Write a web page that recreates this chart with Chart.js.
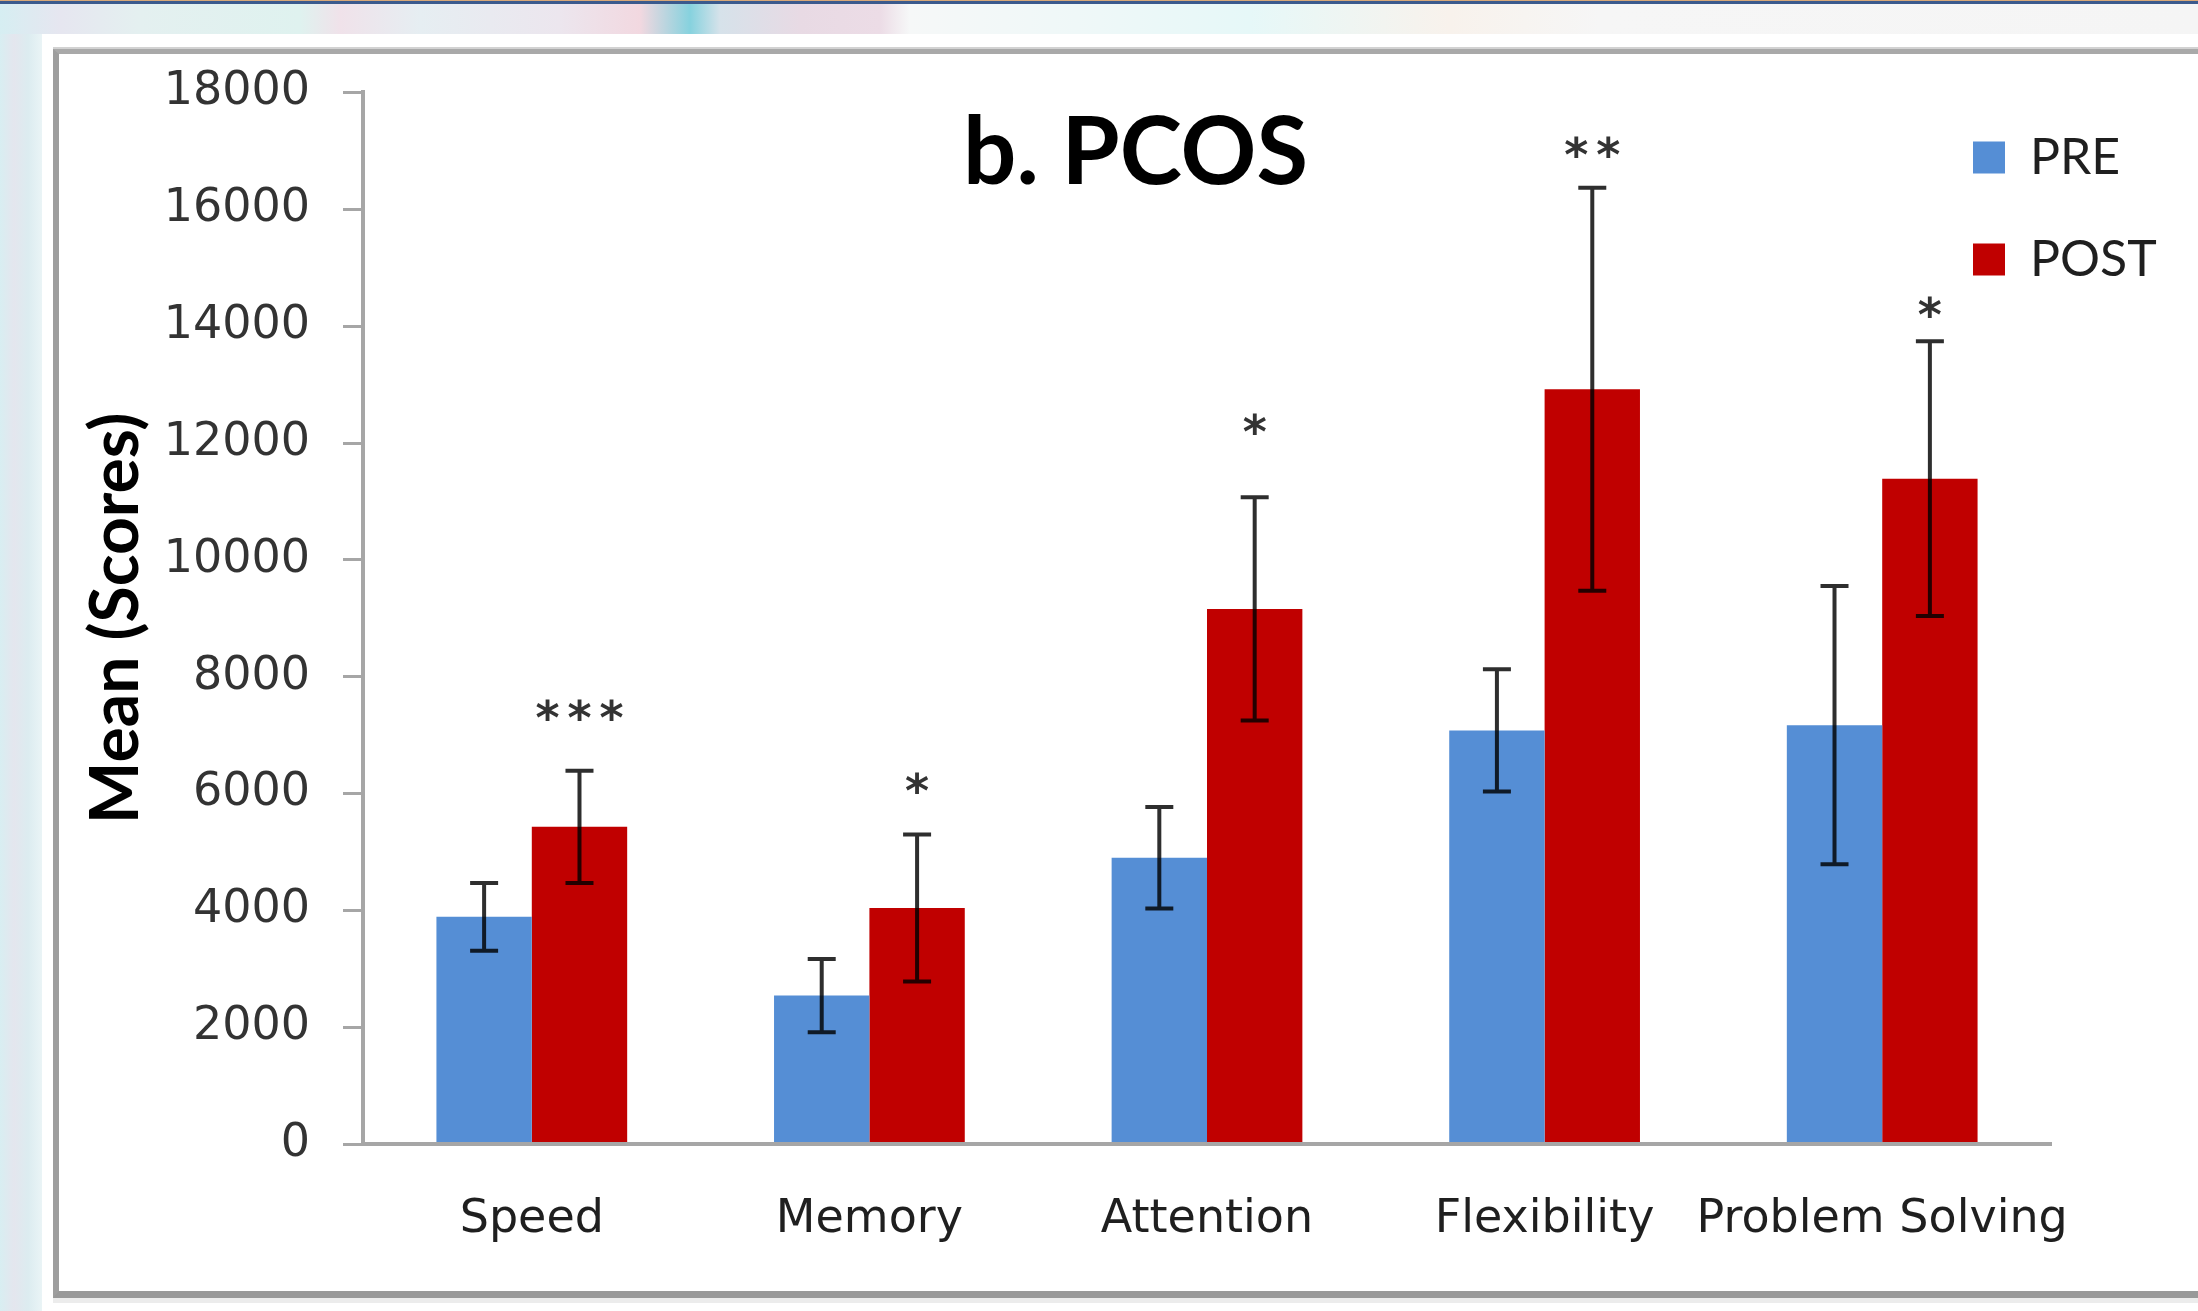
<!DOCTYPE html>
<html>
<head>
<meta charset="utf-8">
<script src="https://cdn.jsdelivr.net/npm/chart.js@4.4.1/dist/chart.umd.min.js"></script>
<style>
html,body{margin:0;padding:0;width:2198px;height:1311px;overflow:hidden;background:#fff;}
#topline{position:absolute;left:0;top:0;width:2198px;height:4px;background:linear-gradient(#d8a878 0 1px,#3b5a8d 1px 4px);}
#topstrip{position:absolute;left:0;top:4px;width:2198px;height:30px;
 background:linear-gradient(90deg,#d6eef2 0px,#e6e6f0 60px,#e4f0f0 140px,#dff2ef 300px,#f0e2ea 340px,#e6eef2 420px,#ece6ee 560px,#f2d8e0 640px,#86d2de 690px,#d6e2ea 720px,#e8dae4 800px,#ecdce6 880px,#f6f8f8 910px,#eef8f8 1100px,#e6f8f8 1250px,#f8f2ec 1450px,#f6f6f6 1600px,#f5f5f5 2198px);}
#leftstrip{position:absolute;left:0;top:34px;width:42px;height:1277px;
 background:linear-gradient(90deg,#d8eef2 0px,#e4e6ee 14px,#dcecf0 28px,#eaf4f6 42px);}
#frame{position:absolute;left:53px;top:49px;width:2200px;height:1237px;background:#fff;
 border-left:6px solid #9e9e9e;border-top:5px solid #a9a9a9;border-bottom:7px solid #999;
 box-shadow:0 -2px 0 #d2d2d2,0 5px 0 #ececec;}
#c{position:absolute;left:72px;top:0;}
</style>
</head>
<body>
<div id="topline"></div>
<div id="topstrip"></div>
<div id="leftstrip"></div>
<div id="frame"></div>
<canvas id="c" width="2126" height="1311"></canvas>
<script>
// ---- data ----
const categories = ['Speed', 'Memory', 'Attention', 'Flexibility', 'Problem Solving'];
const seriesNames = ['PRE', 'POST'];
const preMeans = [3890, 2540, 4900, 7080, 7170];
const preErrors = [580, 625, 870, 1045, 2380];
const postMeans = [5430, 4040, 9160, 12920, 11390];
const postErrors = [960, 1260, 1910, 3450, 2350];
const significance = ['***', '*', '*', '**', '*'];
const significanceAt = [7480, 6230, 12380, 17120, 14380];
const yMin = 0, yMax = 18000, yStep = 2000;

const errorBarPlugin = {
  id: 'errorBars',
  afterDatasetsDraw(chart) {
    const ctx = chart.ctx, ys = chart.scales.y;
    chart.data.datasets.forEach((ds, di) => {
      const meta = chart.getDatasetMeta(di);
      meta.data.forEach((bar, i) => {
        const m = ds.data[i], e = ds.errors[i];
        const yt = ys.getPixelForValue(m + e), yb = ys.getPixelForValue(m - e);
        ctx.save();
        ctx.strokeStyle = 'rgba(0,0,0,0.82)';
        ctx.lineWidth = 4;
        ctx.beginPath();
        ctx.moveTo(bar.x, yt); ctx.lineTo(bar.x, yb);
        ctx.moveTo(bar.x - 14, yt); ctx.lineTo(bar.x + 14, yt);
        ctx.moveTo(bar.x - 14, yb); ctx.lineTo(bar.x + 14, yb);
        ctx.stroke();
        ctx.restore();
      });
    });
  }
};

const sigPlugin = {
  id: 'sig',
  afterDatasetsDraw(chart) {
    const ctx = chart.ctx, ys = chart.scales.y, meta = chart.getDatasetMeta(1);
    ctx.save();
    ctx.font = "bold 46px 'DejaVu Sans'";
    ctx.fillStyle = '#333333';
    ctx.textAlign = 'center';
    ctx.textBaseline = 'alphabetic';
    const hasLS = ('letterSpacing' in ctx);
    if (hasLS) ctx.letterSpacing = '8px';
    meta.data.forEach((bar, i) => {
      const py = ys.getPixelForValue(significanceAt[i]);
      ctx.fillText(significance[i], bar.x + (hasLS ? 4 : 0), py + 27);
    });
    if (hasLS) ctx.letterSpacing = '0px';
    ctx.restore();
  }
};

const placeBoxes = {
  id: 'placeBoxes',
  afterLayout(chart) {
    const lg = chart.legend;
    if (lg) {
      const w = lg.width, h = lg.height;
      lg.left = 1849; lg.right = lg.left + w;
      lg.top = 80.6; lg.bottom = lg.top + h;
    }
    const tb = chart.titleBlock;
    if (tb) {
      tb.left += 74; tb.right += 74;
    }
  }
};

new Chart(document.getElementById('c'), {
  type: 'bar',
  data: {
    labels: categories,
    datasets: [
      { label: seriesNames[0], data: preMeans, errors: preErrors, backgroundColor: '#558ed5', borderWidth: 0,
        categoryPercentage: 0.565, barPercentage: 1.0 },
      { label: seriesNames[1], data: postMeans, errors: postErrors, backgroundColor: '#c00000', borderWidth: 0,
        categoryPercentage: 0.565, barPercentage: 1.0 }
    ]
  },
  options: {
    responsive: false,
    animation: false,
    devicePixelRatio: 1,
    layout: { padding: { left: 0, right: 147, top: 0, bottom: 0 } },
    plugins: {
      tooltip: { enabled: false },
      title: {
        display: true, text: 'b. PCOS', color: '#000',
        font: { family: 'Lato', size: 94, weight: 'bold', lineHeight: 1.2 },
        padding: { top: 97.6, bottom: -117.9 }
      },
      legend: {
        display: true, position: 'chartArea', align: 'start',
        labels: {
          font: { family: 'Lato', size: 50 }, color: '#1f1f1f',
          boxWidth: 32, boxHeight: 32, padding: 52
        }
      }
    },
    scales: {
      x: {
        grid: { display: true, drawOnChartArea: false, drawTicks: false },
        border: { display: true, color: '#a6a6a6', width: 4, z: 1 },
        ticks: { font: { family: "'DejaVu Sans'", size: 46 }, color: '#1f1f1f', padding: 48,
                 maxRotation: 0, minRotation: 0, autoSkip: false },
        afterFit(s) { s.height = 167; }
      },
      y: {
        min: yMin, max: yMax,
        ticks: { stepSize: yStep, font: { family: "'DejaVu Sans'", size: 46 }, color: '#333333', padding: 33,
                 callback: (v) => String(v) },
        grid: { display: true, drawOnChartArea: false, drawTicks: true, tickLength: 20, color: '#a6a6a6', lineWidth: 3 },
        border: { display: true, color: '#a6a6a6', width: 4 },
        title: { display: true, text: 'Mean (Scores)', color: '#000',
                 font: { family: 'Lato', size: 66, weight: 'bold' }, padding: { top: 5, bottom: 0 } },
        afterFit(s) { s.width = 291; }
      }
    }
  },
  plugins: [errorBarPlugin, sigPlugin, placeBoxes]
});
</script>
</body>
</html>
